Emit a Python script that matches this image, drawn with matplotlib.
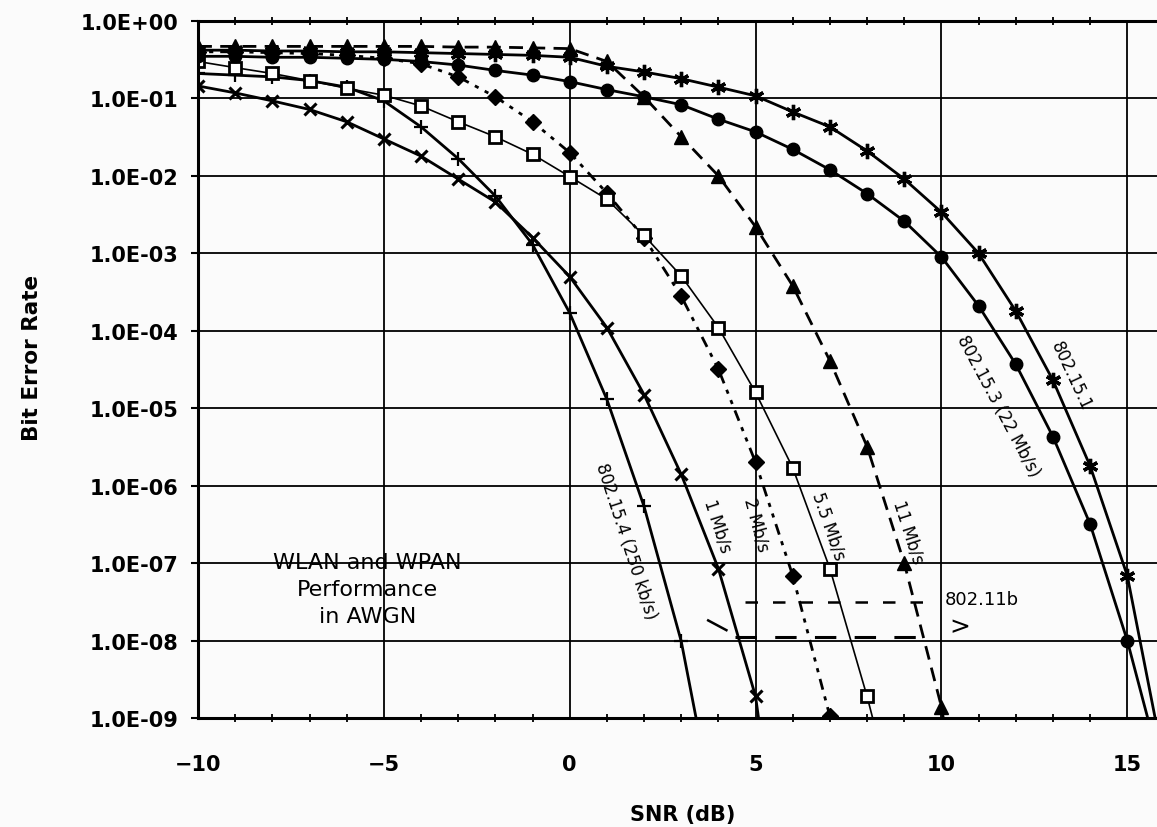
import numpy as np
import matplotlib
matplotlib.use("Agg")
import matplotlib.pyplot as plt
from matplotlib.ticker import FixedLocator, FixedFormatter, MultipleLocator, NullLocator

######### Data
snr_154 = [-10, -9, -8, -7, -6, -5, -4, -3, -2, -1, 0, 1, 2, 3, 3.4]
ber_154 = [0.21, 0.2, 0.19, 0.17, 0.14, 0.093, 0.043, 0.0167, 5.5e-3, 1.3e-3,
           1.7e-4, 1.3e-5, 5.4e-7, 9.8e-9, 1e-9]

snr_1m = [-10, -9, -8, -7, -6, -5, -4, -3, -2, -1, 0, 1, 2, 3, 4, 5, 5.08]
ber_1m = [0.145, 0.118, 0.093, 0.072, 0.05, 0.03, 0.018, 9.1e-3, 4.6e-3, 1.6e-3,
          5e-4, 1.1e-4, 1.5e-5, 1.4e-6, 8.5e-8, 1.9e-9, 1e-9]

snr_2m = [-10, -9, -8, -7, -6, -5, -4, -3, -2, -1, 0, 1, 2, 3, 4, 5, 6, 7]
ber_2m = [0.4, 0.4, 0.39, 0.38, 0.36, 0.33, 0.28, 0.19, 0.105, 0.05, 0.02,
          6e-3, 1.6e-3, 2.8e-4, 3.2e-5, 2e-6, 6.9e-8, 1.05e-9]

snr_55m = [-10, -9, -8, -7, -6, -5, -4, -3, -2, -1, 0, 1, 2, 3, 4, 5, 6, 7, 8, 8.15]
ber_55m = [0.3, 0.25, 0.21, 0.17, 0.135, 0.11, 0.08, 0.05, 0.032, 0.019, 9.8e-3,
           5e-3, 1.7e-3, 5.1e-4, 1.1e-4, 1.6e-5, 1.7e-6, 8.5e-8, 1.9e-9, 1e-9]

snr_11m = [-10, -9, -8, -7, -6, -5, -4, -3, -2, -1, 0, 1, 2, 3, 4, 5, 6, 7, 8, 9, 10, 10.05]
ber_11m = [0.47, 0.47, 0.47, 0.47, 0.47, 0.47, 0.47, 0.46, 0.46, 0.45, 0.44, 0.3,
           0.105, 0.032, 0.01, 2.2e-3, 3.8e-4, 4.1e-5, 3.2e-6, 1e-7, 1.4e-9, 1e-9]

snr_153 = list(range(-10, 16)) + [15.55]
ber_153 = [0.35, 0.35, 0.34, 0.34, 0.33, 0.32, 0.3, 0.27, 0.23, 0.2, 0.165, 0.13,
           0.105, 0.083, 0.054, 0.037, 0.022, 0.012, 5.9e-3, 2.6e-3, 9e-4, 2.1e-4,
           3.7e-5, 4.3e-6, 3.2e-7, 1e-8, 1e-9]

snr_151 = list(range(-10, 16)) + [15.75]
ber_151 = [0.42, 0.42, 0.41, 0.41, 0.4, 0.4, 0.39, 0.38, 0.37, 0.36, 0.34, 0.26,
           0.22, 0.18, 0.14, 0.108, 0.067, 0.043, 0.021, 9.1e-3, 3.4e-3, 1e-3,
           1.8e-4, 2.3e-5, 1.8e-6, 6.9e-8, 1e-9]

y_ticks = [1e0, 1e-1, 1e-2, 1e-3, 1e-4, 1e-5, 1e-6, 1e-7, 1e-8, 1e-9]
y_tick_labels = ["1.0E+00", "1.0E-01", "1.0E-02", "1.0E-03", "1.0E-04",
                 "1.0E-05", "1.0E-06", "1.0E-07", "1.0E-08", "1.0E-09"]
x_ticks = [-10, -5, 0, 5, 10, 15]
x_tick_labels = ["\u221210", "\u22125", "0", "5", "10", "15"]

curve_labels = ["802.15.4 (250 kb/s)", "1 Mb/s", "2 Mb/s", "5.5 Mb/s", "11 Mb/s",
                "802.15.3 (22 Mb/s)", "802.15.1"]

##########################################
W, H = 1157, 828
fig = plt.figure(figsize=(W / 100, H / 100), dpi=100)
fig.patch.set_facecolor("#fbfbfb")
ax = fig.add_axes([198 / W, 1 - 719 / H, 1 - 198 / W, (719 - 22) / H])
ax.set_facecolor("#fbfbfb")

lw = 2.0
k = "black"


def mk(x):
    # markers on the integer points only, not on the end point of the curve
    return [i for i, v in enumerate(x) if float(v).is_integer()]


ax.plot(snr_154, ber_154, color=k, lw=lw, marker="+", ms=10, mew=1.6, markevery=mk(snr_154))
ax.plot(snr_1m, ber_1m, color=k, lw=lw, marker="x", ms=9, mew=2.2, markevery=mk(snr_1m))
ax.plot(snr_2m, ber_2m, color=k, lw=lw, ls=(0, (1.5, 2.5, 1.5, 2.5, 4, 2.5)),
        marker="D", ms=8.5, mew=1, markevery=mk(snr_2m))
ax.plot(snr_55m, ber_55m, color=k, lw=1.2, marker="s", ms=8.5, mew=2,
        mfc="white", markevery=mk(snr_55m))
ax.plot(snr_11m, ber_11m, color=k, lw=lw, ls=(0, (5, 3)), marker="^", ms=9.5, mew=1,
        markevery=mk(snr_11m))
ax.plot(snr_153, ber_153, color=k, lw=lw, marker="o", ms=9, mew=1, markevery=mk(snr_153))
ax.plot(snr_151, ber_151, color=k, lw=lw, marker=(6, 2, 0), ms=11, mew=2.4,
        markevery=mk(snr_151))

ax.set_yscale("log")
ax.set_ylim(1e-9, 1)
ax.set_xlim(-10, 15.8)

ax.yaxis.set_major_locator(FixedLocator(y_ticks))
ax.yaxis.set_major_formatter(FixedFormatter(y_tick_labels))
ax.yaxis.set_minor_locator(NullLocator())
ax.xaxis.set_major_locator(FixedLocator(x_ticks))
ax.xaxis.set_major_formatter(FixedFormatter(x_tick_labels))
ax.xaxis.set_minor_locator(MultipleLocator(1))

ax.grid(True, which="major", color=k, lw=1.3)
ax.set_axisbelow(True)
for s in ["left", "top", "bottom"]:
    ax.spines[s].set_linewidth(2.2)
    ax.spines[s].set_color(k)
ax.spines["right"].set_visible(False)

ax.tick_params(axis="y", which="major", direction="out", length=5, width=1.5, pad=9)
ax.tick_params(axis="x", which="major", length=0, pad=26)
ax.tick_params(axis="x", which="minor", direction="inout", length=6, width=1.3,
               top=True, bottom=True)
for t in ax.get_xticklabels() + ax.get_yticklabels():
    t.set_family("DejaVu Sans")
    t.set_fontweight("bold")
    t.set_fontsize(15)

ax.set_ylabel("Bit Error Rate", fontsize=15.5, fontweight="bold")
ax.yaxis.set_label_coords(-0.163, 0.518)
ax.set_xlabel("SNR (dB)", fontsize=15, fontweight="bold")
ax.xaxis.set_label_coords(0.505, -0.123)

# curve labels (axes fraction, rotation)
lab_pos = [(0.446, 0.254, -72), (0.542, 0.276, -72), (0.582, 0.278, -75),
           (0.658, 0.276, -71), (0.741, 0.268, -72), (0.834, 0.448, -62),
           (0.910, 0.491, -65)]
for txt, (fx, fy, rot) in zip(curve_labels, lab_pos):
    ax.text(fx, fy, txt, transform=ax.transAxes, rotation=rot, fontsize=12,
            ha="center", va="center", rotation_mode="anchor")

ax.text(0.177, 0.185, "WLAN and WPAN\nPerformance\nin AWGN", transform=ax.transAxes,
        fontsize=16, ha="center", va="center", linespacing=1.45)

# 802.11b bracket
ax.text(0.779, 0.171, "802.11b", transform=ax.transAxes, fontsize=13, ha="left", va="center")
ax.text(0.783, 0.132, ">", transform=ax.transAxes, fontsize=18, ha="left", va="center")
ax.plot([0.570, 0.763], [0.1664, 0.1664], transform=ax.transAxes, color=k, lw=1.8,
        ls=(0, (5, 6)))
ax.plot([0.560, 0.758], [0.1162, 0.1162], transform=ax.transAxes, color=k, lw=2.2,
        ls=(0, (7, 6)))
ax.plot([0.532, 0.551], [0.140, 0.126], transform=ax.transAxes, color=k, lw=1.8)

fig.savefig("out.png", dpi=100, facecolor=fig.get_facecolor())
